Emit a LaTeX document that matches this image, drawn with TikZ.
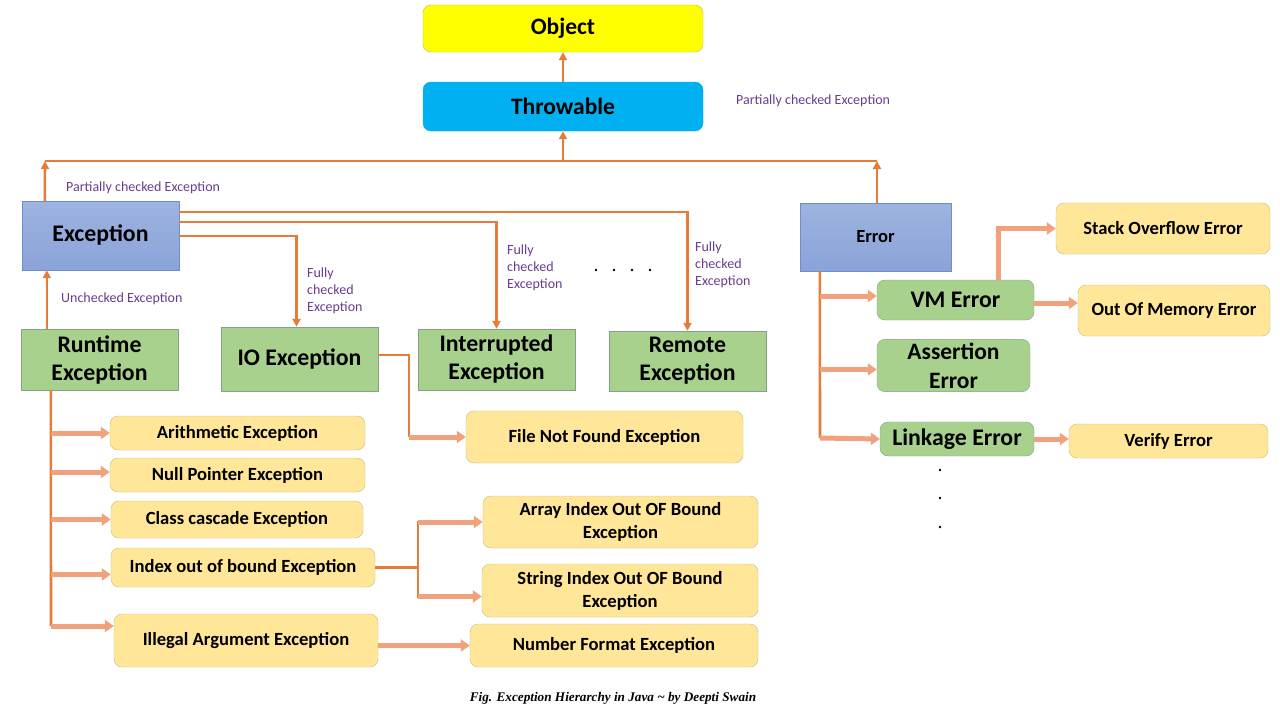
\documentclass[tikz,border=0pt]{standalone}
\usepackage{fontspec}
\setmainfont{Carlito}
\newfontfamily\capfont{Liberation Serif}
\usetikzlibrary{arrows.meta}
\definecolor{objyel}{HTML}{FFFF00}
\definecolor{objbord}{HTML}{BDBD55}
\definecolor{thrblue}{HTML}{00B0F0}
\definecolor{excA}{HTML}{9DB4E0}
\definecolor{excB}{HTML}{8AA3D8}
\definecolor{excbord}{HTML}{6F8FCC}
\definecolor{grn}{HTML}{A9D18E}
\definecolor{grnbord}{HTML}{82A283}
\definecolor{yel}{HTML}{FFE699}
\definecolor{yelbord}{HTML}{C4C07A}
\definecolor{orn}{HTML}{E57C3A}
\definecolor{salm}{HTML}{F0A27C}
\definecolor{purp}{HTML}{6A3C90}

\begin{document}
\begin{tikzpicture}[x=1pt,y=-1pt,>={Triangle[length=8pt,width=8pt]}]

    \tikzstyle{topbox} = [draw, rounded corners=8pt, minimum width=280pt, font=\fontsize{23.5}{26}\selectfont\bfseries]
    \tikzstyle{bluebox} = [draw=excbord, top color=excA, bottom color=excB, font=\fontsize{23.8}{26}\selectfont\bfseries]
    \tikzstyle{greenbox} = [draw=grnbord, fill=grn, align=center, font=\fontsize{23.8}{28}\selectfont\bfseries]
    \tikzstyle{greenround} = [greenbox, rounded corners=8pt]
    \tikzstyle{yellowbox} = [draw=yelbord, fill=yel, rounded corners=8pt, align=center, font=\fontsize{18.6}{23}\selectfont\bfseries]
    \tikzstyle{note} = [text=purp, anchor=west, align=left, inner sep=0pt, font=\fontsize{14}{17}\selectfont]
    \tikzstyle{oline} = [draw=orn, line width=2.6pt]
    \tikzstyle{sarr} = [draw=salm, line width=5pt, -{Triangle[length=9pt,width=12pt]}]

    \path[use as bounding box, fill=white] (0,0) rectangle (1280,720);

    % Nodes
    \node[topbox, fill=objyel, draw=objbord, minimum height=47pt] at (563,28.5) (obj) {Object};
    \node[topbox, fill=thrblue, draw=thrblue, minimum height=49pt] at (563,106.5) (thr) {Throwable};
    \node[bluebox, minimum width=157pt, minimum height=69pt] at (100.5,235.5) (exc) {Exception};
    \node[bluebox, minimum width=151pt, minimum height=68pt, font=\fontsize{18.5}{20}\selectfont\bfseries] at (875.5,237) (err) {Error};

    \node[greenbox, minimum width=157pt, minimum height=61pt] at (99.5,359.5) (rte) {Runtime\\Exception};
    \node[greenbox, minimum width=157pt, minimum height=64pt] at (299.5,359) (ioe) {IO Exception};
    \node[greenbox, minimum width=157pt, minimum height=61pt] at (496.5,359.5) (ine) {Interrupted\\Exception};
    \node[greenbox, minimum width=157pt, minimum height=60pt] at (687.5,361) (rme) {Remote\\Exception};

    \node[yellowbox, minimum width=255pt, minimum height=34pt] at (237.5,433) (ari) {Arithmetic Exception};
    \node[yellowbox, minimum width=255pt, minimum height=34pt] at (237.5,475) (nul) {Null Pointer Exception};
    \node[yellowbox, minimum width=252pt, minimum height=37pt] at (237,519.5) (cls) {Class cascade Exception};
    \node[yellowbox, minimum width=264pt, minimum height=39pt] at (243,567.5) (iob) {Index out of bound Exception};
    \node[yellowbox, minimum width=264pt, minimum height=53pt] at (246,640.5) (ill) {Illegal Argument Exception};
    \node[yellowbox, minimum width=277pt, minimum height=52pt] at (604.5,437) (fnf) {File Not Found Exception};
    \node[yellowbox, minimum width=275pt, minimum height=52pt] at (620.5,522) (aio) {Array Index Out OF Bound\\Exception};
    \node[yellowbox, minimum width=276pt, minimum height=53pt] at (620,590.5) (sio) {String Index Out OF Bound\\Exception};
    \node[yellowbox, minimum width=288pt, minimum height=43pt] at (614,645.5) (nfe) {Number Format Exception};

    \node[greenround, minimum width=157pt, minimum height=40pt] at (955.5,300) (vme) {VM Error};
    \node[greenround, minimum width=153pt, minimum height=49pt, font=\fontsize{23.5}{29}\selectfont\bfseries] at (953.5,365.5) (ase) {Assertion\\Error};
    \node[greenround, minimum width=154pt, minimum height=34pt] at (957,439) (lke) {Linkage Error};
    \node[yellowbox, minimum width=214pt, minimum height=51pt] at (1163,228.5) (soe) {Stack Overflow Error};
    \node[yellowbox, minimum width=192pt, minimum height=51pt] at (1174,310.5) (ome) {Out Of Memory Error};
    \node[yellowbox, minimum width=199pt, minimum height=34pt] at (1168.5,441) (vfe) {Verify Error};

    % Bend points
    \coordinate (busL) at (45,161);
    \coordinate (busM) at (563,161);
    \coordinate (busR) at (877,161);
    \coordinate (rtl) at (51,626);
    \coordinate (iofj) at (409,437);
    \coordinate (iobj) at (418,567.5);
    \coordinate (erl) at (820,438);

    % Arrows
    \draw[oline] (busL) -- (busR);
    \draw[oline,->] ([xshift=23pt]exc.north west) -- (busL);
    \draw[oline,->] ([xshift=1.5pt]err.north) -- (busR);
    \draw[oline,->] (busM) -- (thr.south);
    \draw[oline,->] (thr) -- (obj);
    \draw[oline,->] ([xshift=26pt]rte.north west) -- ([xshift=26pt]rte.north west |- exc.south);
    \draw[oline,->] ([yshift=-11pt]exc.north east) -| (rme.north);
    \draw[oline,->] ([yshift=-21pt]exc.north east) -| (ine.north);
    \draw[oline,->] ([yshift=-35pt]exc.north east) -| ([xshift=-3pt]ioe.north);

    % Runtime branch
    \draw[oline] ([xshift=30pt]rte.south west) -- (rtl);
    \draw[sarr] (rtl |- ari.west) -- (ari.west);
    \draw[sarr] ([yshift=3pt]nul.west -| rtl) -- ([yshift=3pt]nul.west);
    \draw[sarr] (rtl |- cls.west) -- (cls.west);
    \draw[sarr] ([yshift=-7pt]iob.west -| rtl) -- ([yshift=-7pt]iob.west);
    \draw[sarr] (rtl) -- (rtl -| ill.west);
    \draw[oline] (iob.east) -- (iobj);
    \draw[oline] ([yshift=1pt]iobj |- aio.west) -- ([yshift=-7pt]iobj |- sio.west);
    \draw[sarr] (iobj |- aio.west) -- (aio.west);
    \draw[sarr] ([yshift=-6pt]sio.west -| iobj) -- ([yshift=-6pt]sio.west);
    \draw[sarr] (ill.east |- nfe.west) -- (nfe.west);
    \draw[oline] ([yshift=4pt]ioe.east) -| (iofj);
    \draw[sarr] (iofj) -- (fnf.west);

    % Error branch
    \draw[oline] ([xshift=20pt]err.south west) -- (erl);
    \draw[sarr] ([yshift=4pt]vme.west -| erl) -- ([yshift=4pt]vme.west);
    \draw[sarr] ([yshift=-4pt]ase.west -| erl) -- ([yshift=-4pt]ase.west);
    \draw[sarr] (erl) -- (lke.west);
    \draw[sarr] ([xshift=122pt]vme.north west) |- (soe.west);
    \draw[sarr] ([yshift=-3pt]vme.east) -- ([yshift=-3pt]vme.east -| ome.west);
    \draw[sarr] (lke.east) -- (lke.east -| vfe.west);

    % Labels
    \node[note] at (66,188) (pce1) {Partially checked Exception};
    \node[note] at (736,101) (pce2) {Partially checked Exception};
    \node[note] at (61,299) (unc) {Unchecked Exception};
    \node[note] at (307,291) (fce1) {Fully\\checked\\Exception};
    \node[note] at (507,268) (fce2) {Fully\\checked\\Exception};
    \node[note] at (695,265) (fce3) {Fully\\checked\\Exception};
    \node[font=\capfont\fontsize{13.2}{15}\selectfont\bfseries\itshape] at (613,698) (cap) {Fig. Exception Hierarchy in Java \textasciitilde{} by Deepti Swain};

    % Dots
    \foreach \dx in {596,614,632,650} \fill (\dx,270) circle (1.3pt);
    \foreach \dy in {470,498,527} \fill (940,\dy) circle (1.3pt);

\end{tikzpicture}
\end{document}
